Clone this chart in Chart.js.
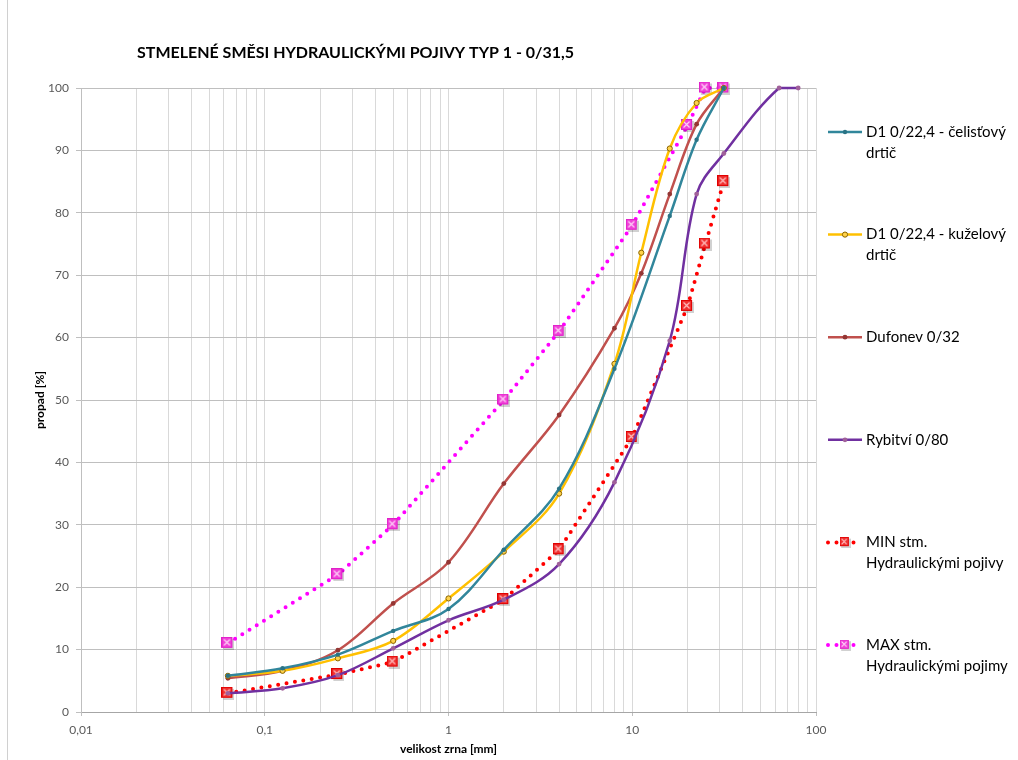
<!DOCTYPE html>
<html>
<head>
<meta charset="utf-8">
<script src="https://cdn.jsdelivr.net/npm/chart.js@4/dist/chart.umd.min.js"></script>
<style>
  html, body { margin: 0; padding: 0; background: #ffffff; }
  #wrap { position: relative; width: 1018px; height: 760px; overflow: hidden; }
  #frame { position: absolute; left: 7px; top: 0; width: 0; height: 760px; border-left: 1px solid #d0d0d0; }
  canvas { position: absolute; left: 0; top: 0; }
</style>
</head>
<body>
<div id="wrap">
  <canvas id="chart" width="1018" height="760"></canvas>
  <div id="frame"></div>
</div>
<script>
// ---------- texts ----------
const chartTitle = 'STMELENÉ SMĚSI HYDRAULICKÝMI POJIVY TYP 1 - 0/31,5';
const xAxisTitle = 'velikost zrna [mm]';
const yAxisTitle = 'propad [%]';

// ---------- axis ticks ----------
const xMajorTicks = [0.01, 0.1, 1, 10, 100];
const xTickLabels = ['0,01', '0,1', '1', '10', '100'];
const yMin = 0, yMax = 100, yStep = 10;

// ---------- series ----------
const legendLines = [
  ['D1 0/22,4 - čelisťový', 'drtič'],
  ['D1 0/22,4 - kuželový', 'drtič'],
  ['Dufonev 0/32'],
  ['Rybitví 0/80'],
  ['MIN stm.', 'Hydraulickými pojivy'],
  ['MAX stm.', 'Hydraulickými pojimy']
];

const celistX = [0.063, 0.125, 0.25, 0.5, 1, 2, 4, 8, 16, 22.4, 31.5];
const celistY = [5.8, 7.0, 9.2, 13.0, 16.5, 26.0, 35.8, 55.0, 79.5, 91.7, 100];

const kuzelX = [0.063, 0.125, 0.25, 0.5, 1, 2, 4, 8, 11.2, 16, 22.4, 31.5];
const kuzelY = [5.8, 6.6, 8.6, 11.4, 18.2, 25.7, 35.0, 55.8, 73.6, 90.3, 97.6, 100];

const dufonevX = [0.063, 0.125, 0.25, 0.5, 1, 2, 4, 8, 11.2, 16, 22.4, 31.5];
const dufonevY = [5.4, 6.6, 9.9, 17.4, 24.0, 36.6, 47.6, 61.5, 70.3, 83.0, 94.2, 100];

const rybitviX = [0.063, 0.125, 0.25, 0.5, 1, 2, 4, 8, 16, 22.4, 31.5, 63, 80];
const rybitviY = [3.0, 3.8, 5.9, 10.2, 14.7, 18.0, 23.7, 36.8, 59.5, 83.0, 89.5, 100, 100];

const minX = [0.063, 0.25, 0.5, 2, 4, 10, 20, 25, 31.5];
const minY = [3, 6, 8, 18, 26, 44, 65, 75, 85];

const maxX = [0.063, 0.25, 0.5, 2, 4, 10, 20, 25, 31.5];
const maxY = [11, 22, 30, 50, 61, 78, 94, 100, 100];

// ---------- helpers ----------
function pairs(xs, ys) { return xs.map((x, i) => ({ x: x, y: ys[i] })); }

function makeSquareMarker(fill, edge, cross) {
  const c = document.createElement('canvas');
  c.width = 13; c.height = 13;
  const g = c.getContext('2d');
  g.fillStyle = 'rgba(0,0,0,0.18)';
  g.fillRect(2, 2, 11, 11);
  g.fillStyle = fill;
  g.fillRect(0.5, 0.5, 10, 10);
  g.strokeStyle = edge; g.lineWidth = 1;
  g.strokeRect(0.5, 0.5, 10, 10);
  g.strokeStyle = cross; g.lineWidth = 1.2;
  g.beginPath();
  g.moveTo(2.5, 2.5); g.lineTo(8.5, 8.5);
  g.moveTo(8.5, 2.5); g.lineTo(2.5, 8.5);
  g.stroke();
  return c;
}
const minMarker = makeSquareMarker('#f03030', '#e00000', 'rgba(255,200,200,0.95)');
const maxMarker = makeSquareMarker('#f040d8', '#e020c8', 'rgba(255,220,250,0.95)');

const FONT = 'Lato, "Open Sans", sans-serif';

const datasets = [
  { label: legendLines[0].join(' '), data: pairs(celistX, celistY),
    borderColor: '#31869b', backgroundColor: '#2a7385', borderWidth: 2.5,
    pointRadius: 2.2, pointBorderWidth: 0, tension: 0.35, clip: 8, _kind: 'solid' },
  { label: legendLines[1].join(' '), data: pairs(kuzelX, kuzelY),
    borderColor: '#ffc000', backgroundColor: '#ffd24a', pointBorderColor: '#8a6400',
    borderWidth: 2.5, pointRadius: 2.6, pointBorderWidth: 1, tension: 0.35, clip: 8, _kind: 'solid' },
  { label: legendLines[2].join(' '), data: pairs(dufonevX, dufonevY),
    borderColor: '#c0504d', backgroundColor: '#943634', borderWidth: 2.5,
    pointRadius: 2.4, pointBorderWidth: 0, tension: 0.35, clip: 8, _kind: 'solid' },
  { label: legendLines[3].join(' '), data: pairs(rybitviX, rybitviY),
    borderColor: '#7030a0', backgroundColor: '#a0609a', borderWidth: 2.5,
    pointRadius: 2.4, pointBorderWidth: 0, tension: 0.35, clip: 8, _kind: 'solid' },
  { label: legendLines[4].join(' '), data: pairs(minX, minY),
    borderColor: '#ff0000', backgroundColor: '#ff0000', borderWidth: 4,
    borderDash: [0, 8.5], borderCapStyle: 'round',
    pointStyle: minMarker, pointRadius: 6, tension: 0, clip: 8, _kind: 'dotted', _marker: minMarker },
  { label: legendLines[5].join(' '), data: pairs(maxX, maxY),
    borderColor: '#ff00ff', backgroundColor: '#ff00ff', borderWidth: 4,
    borderDash: [0, 8.5], borderCapStyle: 'round',
    pointStyle: maxMarker, pointRadius: 6, tension: 0, clip: 8, _kind: 'dotted', _marker: maxMarker }
];

// ---------- plugin: title + legend ----------
const textPlugin = {
  id: 'textPlugin',
  afterDraw(chart) {
    const ctx = chart.ctx;
    ctx.save();
    ctx.fillStyle = '#000000';
    ctx.textBaseline = 'middle';
    ctx.textAlign = 'left';
    ctx.font = 'bold 16px ' + FONT;
    ctx.fillText(chartTitle, 137, 53);

    const x0 = 828, len = 34, textX = 866, top = 132, step = 102.6, lineH = 21;
    ctx.font = '15px ' + FONT;
    chart.data.datasets.forEach((ds, i) => {
      const y = top + i * step;
      ctx.save();
      ctx.strokeStyle = ds.borderColor;
      if (ds._kind === 'dotted') {
        ctx.lineWidth = 4; ctx.lineCap = 'round'; ctx.setLineDash([0, 8.5]);
        ctx.beginPath(); ctx.moveTo(x0, y); ctx.lineTo(x0 + len, y); ctx.stroke();
        ctx.setLineDash([]);
        ctx.drawImage(ds._marker, x0 + len / 2 - 5.5, y - 5.5, 11, 11);
      } else {
        ctx.lineWidth = 2.5;
        ctx.beginPath(); ctx.moveTo(x0, y); ctx.lineTo(x0 + len, y); ctx.stroke();
        ctx.fillStyle = ds.backgroundColor;
        ctx.beginPath(); ctx.arc(x0 + len / 2, y, ds.pointRadius, 0, Math.PI * 2); ctx.fill();
        if (ds.pointBorderWidth) {
          ctx.strokeStyle = ds.pointBorderColor; ctx.lineWidth = ds.pointBorderWidth; ctx.stroke();
        }
      }
      ctx.restore();
      ctx.fillStyle = '#000000';
      legendLines[i].forEach((t, j) => ctx.fillText(t, textX, y + j * lineH));
    });
    ctx.restore();
  }
};

function isMajor(v) {
  return xMajorTicks.findIndex(m => Math.abs(Math.log10(v) - Math.log10(m)) < 1e-6);
}

new Chart(document.getElementById('chart'), {
  type: 'line',
  data: { datasets: datasets },
  plugins: [textPlugin],
  options: {
    responsive: false,
    animation: false,
    devicePixelRatio: 1,
    layout: { padding: { left: 0, right: 202, top: 88, bottom: 0 } },
    plugins: { legend: { display: false }, title: { display: false }, tooltip: { enabled: false } },
    elements: { line: { fill: false } },
    scales: {
      x: {
        type: 'logarithmic',
        min: xMajorTicks[0],
        max: xMajorTicks[xMajorTicks.length - 1],
        afterBuildTicks(scale) {
          const t = [];
          for (let d = 0; d < xMajorTicks.length - 1; d++) {
            for (let m = 1; m <= 9; m++) t.push({ value: Number((xMajorTicks[d] * m).toPrecision(6)) });
          }
          t.push({ value: xMajorTicks[xMajorTicks.length - 1] });
          scale.ticks = t;
        },
        afterFit(scale) { scale.height = 48; },
        ticks: {
          autoSkip: false, maxRotation: 0, minRotation: 0,
          padding: 7, color: '#595959',
          font: { family: FONT, size: 12 },
          callback(value) { const i = isMajor(value); return i >= 0 ? xTickLabels[i] : ''; }
        },
        grid: {
          color: '#d9d9d9', lineWidth: 1,
          tickLength: 4,
          tickColor(ctx) { return ctx.tick && isMajor(ctx.tick.value) >= 0 ? '#bfbfbf' : 'rgba(0,0,0,0)'; }
        },
        border: { display: true, color: '#a6a6a6', width: 1 },
        title: { display: true, text: xAxisTitle, color: '#000000',
          font: { family: FONT, size: 12, weight: 'bold' }, padding: { top: 0, bottom: 4 } }
      },
      y: {
        type: 'linear',
        min: yMin, max: yMax,
        afterFit(scale) { scale.width = 81; },
        ticks: { stepSize: yStep, padding: 7, color: '#595959', font: { family: FONT, size: 12 } },
        grid: { color: '#bfbfbf', lineWidth: 1, tickLength: 5, tickColor: '#bfbfbf' },
        border: { display: true, color: '#bfbfbf', width: 1 },
        title: { display: true, text: yAxisTitle, color: '#000000',
          font: { family: FONT, size: 12, weight: 'bold' }, padding: { top: 33, bottom: 0 } }
      }
    }
  }
});
</script>
</body>
</html>
